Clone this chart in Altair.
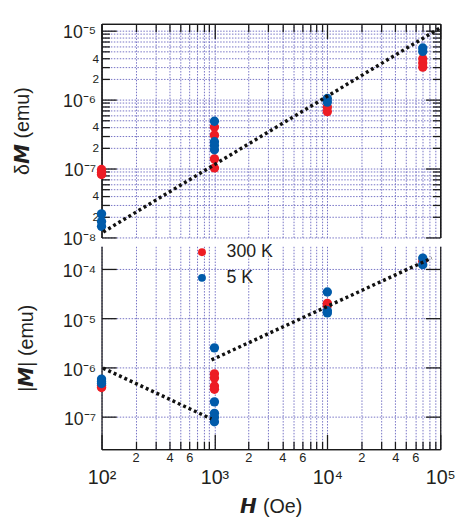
import json
import altair as alt
import pandas as pd

# ---------------- data ----------------
temps = ["300 K", "5 K"]
colors = ["#ED1C24", "#005BAA"]

# top panel: delta M (emu)
top_h_300 = [100, 100, 100, 1000, 1000, 1000, 1000, 10000, 10000, 70000, 70000, 70000]
top_dm_300 = [9.7e-8, 8.8e-8, 8.2e-8, 4.0e-7, 3.05e-7, 1.38e-7, 1.02e-7, 7.8e-7, 6.7e-7, 3.9e-6, 3.4e-6, 2.96e-6]
top_h_5 = [100, 100, 100, 1000, 1000, 1000, 1000, 10000, 10000, 70000, 70000]
top_dm_5 = [2.2e-8, 1.7e-8, 1.45e-8, 4.85e-7, 2.45e-7, 2.15e-7, 1.87e-7, 1.04e-6, 9.2e-7, 5.6e-6, 5.0e-6]

# bottom panel: |M| (emu)
bot_h_300 = [100, 100, 1000, 1000, 1000, 1000, 10000, 10000, 70000]
bot_m_300 = [4.3e-7, 3.9e-7, 7.4e-7, 6.1e-7, 4.2e-7, 3.6e-7, 2.0e-5, 1.8e-5, 1.43e-4]
bot_h_5 = [100, 100, 100, 1000, 1000, 1000, 1000, 1000, 10000, 10000, 10000, 70000, 70000]
bot_m_5 = [5.8e-7, 5.2e-7, 4.7e-7, 2.5e-6, 2.0e-7, 1.17e-7, 9.7e-8, 7.9e-8, 3.4e-5, 1.42e-5, 1.28e-5, 1.66e-4, 1.22e-4]

# dotted guide lines (segment endpoints)
top_line_seg = ["a", "a"]
top_line_h = [103.5, 100000]
top_line_v = [1.2e-8, 1.1e-5]
bot_line_seg = ["b", "b", "c", "c"]
bot_line_h = [103, 940, 942, 84000]
bot_line_v = [9.7e-7, 9.0e-8, 1.42e-6, 1.66e-4]

# ticks
minor_k = [2, 3, 4, 5, 6, 7, 8, 9]
x_major = [1e2, 1e3, 1e4, 1e5]
x_major_labels = ["10²", "10³", "10⁴", "10⁵"]
x_decades = [2, 3, 4]
x_minor_shown = [2, 4, 6]
y_top_major = [1e-8, 1e-7, 1e-6, 1e-5]
y_top_major_labels = ["10⁻⁸", "10⁻⁷", "10⁻⁶", "10⁻⁵"]
y_top_decades = [-8, -7, -6]
y_top_minor_shown = [2, 4]
y_bot_major = [1e-7, 1e-6, 1e-5, 1e-4]
y_bot_major_labels = ["10⁻⁷", "10⁻⁶", "10⁻⁵", "10⁻⁴"]

x_minor = [k * 10.0 ** n for n in x_decades for k in minor_k]
x_minor_labels = [str(k) if k in x_minor_shown else "" for n in x_decades for k in minor_k]
y_top_minor = [k * 10.0 ** n for n in y_top_decades for k in minor_k]
y_top_minor_labels = [str(k) if k in y_top_minor_shown else "" for n in y_top_decades for k in minor_k]

FONT = "Liberation Sans"
INK = "#231F20"
GRID = dict(gridColor="#6E6BC2", gridDash=[1.5, 1.5], gridWidth=1, gridOpacity=0.95)


def labexpr(values, labels):
    return f"{json.dumps(labels, ensure_ascii=False)}[indexof({json.dumps(values)}, datum.value)]"


def axis(orient, values, tick, labels=None, font=17, gap=3, shift=0, grid=False,
         title=None, title_pad=0, title_size=20):
    kw = dict(orient=orient, values=values, tickSize=alt.ExprRef(expr=f"-{tick}"),
              grid=grid, domain=True, labelOverlap=False, labelFlush=False, title=title)
    if labels is None:
        kw["labels"] = False
    else:
        kw.update(labelExpr=labexpr(values, labels), labelFontSize=font,
                  labelPadding=tick + gap, labelOffset=shift)
    if grid:
        kw.update(GRID)
    if title is not None:
        kw.update(titlePadding=title_pad, titleFontSize=title_size)
    return alt.Axis(**kw)


xs = alt.Scale(type="log", domain=[100, 1e5], nice=False)
ys_top = alt.Scale(type="log", domain=[1e-8, 1.259e-5], nice=False)
ys_bot = alt.Scale(type="log", domain=[2.19e-8, 2.88e-4], nice=False)
cscale = alt.Scale(domain=temps, range=colors)

top_df = pd.DataFrame({
    "H": top_h_300 + top_h_5,
    "V": top_dm_300 + top_dm_5,
    "T": [temps[0]] * len(top_h_300) + [temps[1]] * len(top_h_5),
})
bot_df = pd.DataFrame({
    "H": bot_h_300 + bot_h_5,
    "V": bot_m_300 + bot_m_5,
    "T": [temps[0]] * len(bot_h_300) + [temps[1]] * len(bot_h_5),
})
top_line_df = pd.DataFrame({"S": top_line_seg, "H": top_line_h, "V": top_line_v})
bot_line_df = pd.DataFrame({"S": bot_line_seg, "H": bot_line_h, "V": bot_line_v})

PT = 90

# ---------------- top panel ----------------
pts_top = alt.Chart(top_df).mark_point(filled=True, size=PT, opacity=1).encode(
    x=alt.X("H:Q", scale=xs, axis=axis("top", x_major, 15, grid=True)),
    y=alt.Y("V:Q", scale=ys_top,
            axis=axis("left", y_top_major, 15, labels=y_top_major_labels, font=18, gap=6,
                      shift=2, grid=True, title="δ𝙈 (emu)", title_pad=31)),
    color=alt.Color("T:N", scale=cscale, legend=None),
)
line_top = alt.Chart(top_line_df).mark_line(color="#111111", strokeWidth=3.5, strokeDash=[3, 3]).encode(
    x=alt.X("H:Q", scale=xs, axis=axis("top", x_minor, 8, grid=True)),
    y=alt.Y("V:Q", scale=ys_top,
            axis=axis("left", y_top_minor, 8, labels=y_top_minor_labels, font=12, gap=3, grid=True)),
    detail="S:N",
)
r_top_major = alt.Chart(top_df).mark_point(opacity=0).encode(
    x=alt.X("H:Q", scale=xs, axis=None),
    y=alt.Y("V:Q", scale=ys_top, axis=axis("right", y_top_major, 15)),
)
r_top_minor = alt.Chart(top_df).mark_point(opacity=0).encode(
    x=alt.X("H:Q", scale=xs, axis=None),
    y=alt.Y("V:Q", scale=ys_top, axis=axis("right", y_top_minor, 8)),
)
top = alt.layer(pts_top, line_top, r_top_major, r_top_minor).resolve_axis(
    x="independent", y="independent").properties(width=344, height=217)

# ---------------- bottom panel ----------------
pts_bot = alt.Chart(bot_df).mark_point(filled=True, size=PT, opacity=1).encode(
    x=alt.X("H:Q", scale=xs,
            axis=axis("bottom", x_major, 15, labels=x_major_labels, font=20, gap=19, grid=True,
                      title="𝙃 (Oe)", title_pad=9)),
    y=alt.Y("V:Q", scale=ys_bot,
            axis=axis("left", y_bot_major, 15, labels=y_bot_major_labels, font=18, gap=6,
                      shift=3, grid=True, title="|𝙈| (emu)", title_pad=26)),
    color=alt.Color("T:N", scale=cscale,
                    legend=alt.Legend(orient="none", legendX=93, legendY=-3, title=None,
                                      labelFontSize=18, labelFont=FONT, labelColor=INK,
                                      symbolSize=64, symbolType="circle", labelOffset=16,
                                      rowPadding=8, padding=0, symbolStrokeWidth=0,
                                      symbolOpacity=1)),
)
line_bot = alt.Chart(bot_line_df).mark_line(color="#111111", strokeWidth=3.5, strokeDash=[3, 3]).encode(
    x=alt.X("H:Q", scale=xs,
            axis=axis("bottom", x_minor, 8, labels=x_minor_labels, font=13, gap=3, grid=True)),
    y=alt.Y("V:Q", scale=ys_bot, axis=axis("right", y_bot_major, 15)),
    detail="S:N",
)
bottom = alt.layer(pts_bot, line_bot).resolve_axis(
    x="independent", y="independent").properties(width=344, height=206)

chart = alt.vconcat(top, bottom, spacing=9, bounds="flush").resolve_scale(
    color="independent").resolve_legend(color="independent").properties(
    padding={"left": 4, "top": 9, "right": 0, "bottom": 5}
).configure_axis(
    domainColor="#1A1A1A", domainWidth=1.3, tickColor="#1A1A1A", tickWidth=1.3,
    labelColor=INK, labelFont=FONT, titleFont=FONT, titleFontWeight="normal", titleColor=INK,
).configure_view(stroke=None)

chart.save("out.html", embed_options={"renderer": "svg", "actions": False})
